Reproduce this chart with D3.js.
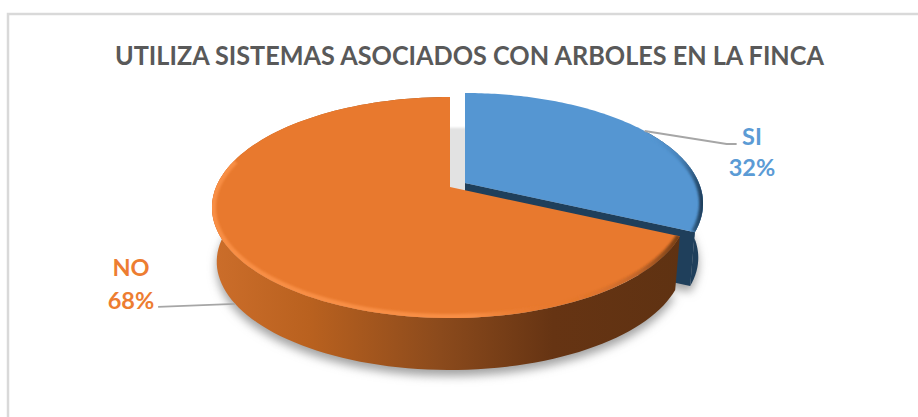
<!DOCTYPE html>
<html>
<head>
<meta charset="utf-8">
<script src="https://cdn.jsdelivr.net/npm/d3@7"></script>
<style>
  html, body { margin: 0; padding: 0; background: #fff; }
  svg { display: block; }
</style>
</head>
<body>
<svg id="chart" width="918" height="417"></svg>
<script>
// Survey answers and their labels
const categories = ["SI", "NO"];
const shares = [32, 68];
const titleText = "UTILIZA SISTEMAS ASOCIADOS CON ARBOLES EN LA FINCA";
const labelColors = ["#5b9bd5", "#ed7d31"];

// Perspective disc: apex, horizontal and vertical radii, foreshortening
const apex = { x: 450, y: 187 };
const radiusX = 233.9, radiusY = 106.7, tilt = 0.1855;
const depth = 54.6, floorScale = 0.98;
const pullOut = [[15, -4], [0, 0]];

const svg = d3.select("#chart");
const defs = svg.append("defs");

const pie = d3.pie().sort(null).value(d => d).startAngle(0).endAngle(2 * Math.PI);
const arcs = pie(shares);

// Maps a polar point on the pie disc to the page. floor = 0 is the top face, 1 the underside.
function project(angle, r, shift, floor) {
  const u = r * Math.sin(angle);
  const v = r * Math.cos(angle);
  const w = 1 + tilt * v;
  const k = floor ? floorScale : 1;
  return [apex.x + shift[0] + k * radiusX * u / w,
          apex.y + shift[1] + (floor ? depth : 0) - k * radiusY * v / w];
}

const line = d3.line();
const sweep = (a0, a1) => d3.range(0, 121).map(i => a0 + (a1 - a0) * i / 120);
const deg = Math.PI / 180;

function slicePaths(d, i) {
  const mid = (d.startAngle + d.endAngle) / 2, shift = pullOut[i];
  const rim = (a0, a1, floor) => sweep(a0, a1).map(a => project(a, 1, shift, floor));
  // the pulled-out slice only shows its wall past the mid-angle
  const wallFrom = i === 0 ? mid : d.startAngle;
  // bevel highlight: right-hand edge on the blue slice, front-left edge on the orange one
  const bevel = i === 0 ? [mid, d.endAngle] : [d.startAngle, 285 * deg];
  return {
    mid, shift,
    top: line([project(0, 0, shift, 0), ...rim(d.startAngle, d.endAngle, 0)]) + "Z",
    floor: line([project(0, 0, shift, 1), ...rim(d.startAngle, d.endAngle, 1)]) + "Z",
    rimTop: line(rim(bevel[0], bevel[1], 0)),
    wall: line([...rim(wallFrom, d.endAngle, 0), ...rim(d.endAngle, wallFrom, 1)]) + "Z",
    cut: line([project(0, 0, shift, 0), project(d.endAngle, 1, shift, 0),
               project(d.endAngle, 1, shift, 1), project(0, 0, shift, 1)]) + "Z"
  };
}
const paths = arcs.map(slicePaths);

// Soft-edge filters
[["blur5", 5], ["blur1", 1.2]].forEach(([id, s]) => {
  defs.append("filter").attr("id", id).attr("x", "-20%").attr("y", "-20%")
    .attr("width", "140%").attr("height", "140%")
    .append("feGaussianBlur").attr("stdDeviation", s);
});

function hGradient(id, x1, x2, stops) {
  const g = defs.append("linearGradient").attr("id", id)
    .attr("gradientUnits", "userSpaceOnUse")
    .attr("x1", x1).attr("x2", x2).attr("y1", 0).attr("y2", 0);
  stops.forEach(([o, c, a]) => g.append("stop").attr("offset", o).attr("stop-color", c)
    .attr("stop-opacity", a === undefined ? 1 : a));
}
const left = apex.x - radiusX, right = apex.x + radiusX;
hGradient("sideOrange", left, right, [[0, "#cb6d2a"], [0.2, "#b9611f"], [0.48, "#8b4a1c"], [0.72, "#663413"], [1, "#5f3212"]]);
hGradient("rimOrange", left, right, [[0, "#f88e44"], [0.55, "#f88e44"], [0.72, "#e8792e", 0], [0.9, "#6b3a16", 0.3], [1, "#5f3212", 0.9]]);
hGradient("rimBlue", right - 40, right + 18, [[0, "#5596d2", 0], [0.6, "#3d74a8", 0.55], [1, "#1f3f5b", 1]]);

arcs.forEach((d, i) => {
  defs.append("clipPath").attr("id", "clip" + i).append("path").attr("d", paths[i].top);
});

// Chart frame: top and left rules only
svg.append("path").attr("d", "M8,417V14H918").attr("fill", "none")
  .attr("stroke", "#d9d9d9").attr("stroke-width", 2.5);

// Title
svg.append("text").attr("x", 469.5).attr("y", 65).attr("text-anchor", "middle")
  .attr("font-family", "Lato").attr("font-weight", 700).attr("font-size", 26.5)
  .attr("textLength", 709).attr("lengthAdjust", "spacingAndGlyphs")
  .attr("fill", "#595959").text(titleText);

// Drop shadow under the pie and in the gap left by the pulled-out slice
const shadow = svg.append("g").attr("filter", "url(#blur5)").attr("fill", "#a2a2a2");
paths.forEach(p => shadow.append("path").attr("d", p.floor).attr("transform", "translate(0,6)"));

const gapTop = project(0, 0.62, pullOut[1], 0), gapRight = project(0, 0, pullOut[0], 0);
svg.append("path").attr("filter", "url(#blur1)").attr("fill", "#e2e2e2")
  .attr("d", line([[gapTop[0] - 2, gapTop[1]], [gapRight[0] + 2, gapTop[1]], [gapRight[0] + 2, gapRight[1] + 8], [gapTop[0] - 2, gapRight[1] + 8]]) + "Z");

// Pulled-out slice, then the main slice in front of it
const sliceFill = ["#5596d2", "#e8792e"];
paths.forEach((p, i) => {
  const g = svg.append("g");
  if (i === 0) {
    g.append("path").attr("d", p.wall).attr("fill", "#1f3f5b");
    g.append("path").attr("d", p.cut).attr("fill", "#1f3f5b");
  } else {
    g.append("path").attr("d", p.wall).attr("fill", "url(#sideOrange)");
  }
  g.append("path").attr("d", p.top).attr("fill", sliceFill[i]);
  g.append("g").attr("clip-path", `url(#clip${i})`).append("path")
    .attr("d", p.rimTop).attr("fill", "none")
    .attr("stroke", i === 0 ? "url(#rimBlue)" : "url(#rimOrange)")
    .attr("stroke-width", 8).attr("filter", "url(#blur1)");
});

// Leader lines start on the rim at each slice's mid-angle
const leaderEnds = [
  { floor: 0, bend: [82, 13], end: [92, 13] },
  { floor: 1, bend: [-77, 3], end: [-77, 3] }
];
paths.forEach((p, i) => {
  const s = project(p.mid, 1, p.shift, leaderEnds[i].floor);
  const pts = [s, [s[0] + leaderEnds[i].bend[0], s[1] + leaderEnds[i].bend[1]],
               [s[0] + leaderEnds[i].end[0], s[1] + leaderEnds[i].end[1]]];
  svg.append("path").attr("d", line(pts)).attr("fill", "none")
    .attr("stroke", "#a6a6a6").attr("stroke-width", 1.8);
});

// Category and percentage labels
const labelAnchors = [[752, 145, 176], [131, 276, 309]];
categories.forEach((c, i) => {
  const [x, y0, y1] = labelAnchors[i];
  const t = svg.append("text").attr("text-anchor", "middle").attr("font-family", "Lato")
    .attr("font-weight", 700).attr("font-size", 23.5).attr("fill", labelColors[i]);
  t.append("tspan").attr("x", x).attr("y", y0).text(c);
  t.append("tspan").attr("x", x).attr("y", y1).text(shares[i] + "%");
});
</script>
</body>
</html>
